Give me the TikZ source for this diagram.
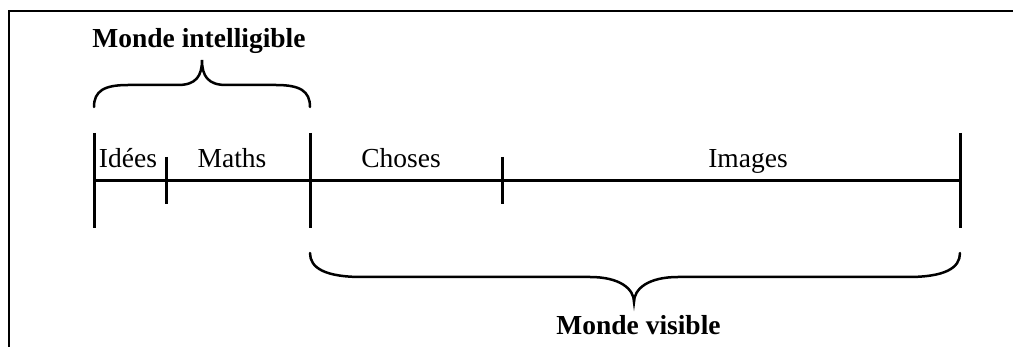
\documentclass[tikz,border=0pt]{standalone}
\usepackage{fontspec}
\setmainfont{Liberation Serif}
\begin{document}
\begin{tikzpicture}[x=1pt,y=-1pt,
  axis/.style={line width=3pt},
  bracepath/.style={line width=2.5pt,line cap=round},
  frameline/.style={line width=2pt},
  lbl/.style={font=\fontsize{27.5}{33}\selectfont,inner sep=0pt,anchor=base},
  title/.style={font=\fontsize{27.5}{33}\selectfont\bfseries,inner sep=0pt,anchor=base}]
\useasboundingbox (0,0) rectangle (1013,347);
\clip (0,0) rectangle (1013,347);
% frame
\draw[frameline] (9,360) -- (9,11.5) -- (1030,11.5);
% axis
\coordinate (A) at (94,181);
\coordinate (B) at (960,181);
\draw[axis] (A) -- (B);
% long ticks
\draw[axis] (94,133) -- (94,228);
\draw[axis] (310,133) -- (310,228);
\draw[axis] (960,133) -- (960,228);
% short ticks
\draw[axis] (166,157) -- (166,204);
\draw[axis] (502,157) -- (502,204);
% labels
\node[lbl] (idees) at (128,168) {Idées};
\node[lbl] (maths) at (232,168) {Maths};
\node[lbl] (choses) at (401,168) {Choses};
\node[lbl] (images) at (748,168) {Images};
% top brace
\draw[bracepath] (94,107) .. controls (94,91) and (104,85) .. (128,85)
  -- (178,85) .. controls (196,85) and (202,76) .. (202,60)
  .. controls (202,76) and (208,85) .. (226,85)
  -- (276,85) .. controls (300,85) and (310,91) .. (310,107);
\node[title] (mi) at (199,47.7) {Monde intelligible};
% bottom brace
\draw[bracepath] (310,253) .. controls (310,268) and (325,277) .. (362,277)
  -- (590,277) .. controls (620,277) and (634,289) .. (634,302)
  .. controls (634,289) and (648,277) .. (678,277)
  -- (908,277) .. controls (945,277) and (960,268) .. (960,253);
\node[title] (mv) at (638.5,335) {Monde visible};
\end{tikzpicture}
\end{document}
